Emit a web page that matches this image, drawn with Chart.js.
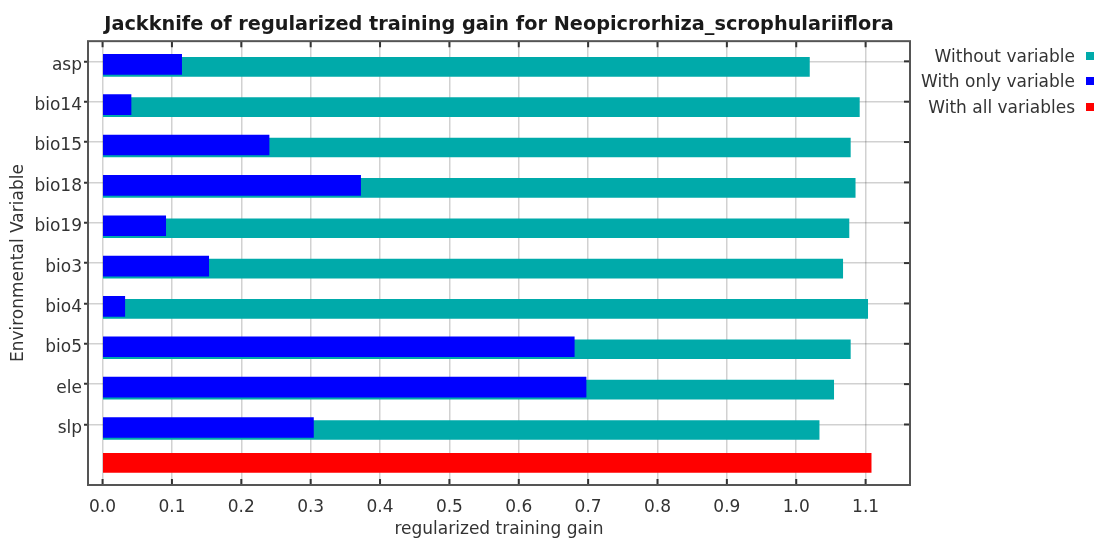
<!DOCTYPE html>
<html>
<head>
<meta charset="utf-8">
<script src="https://cdn.jsdelivr.net/npm/chart.js@4/dist/chart.umd.min.js"></script>
<style>
    body { margin: 0; background: #fff; }
    #wrap { position: relative; width: 1097px; height: 543px; }
    #legend { position: absolute; right: 3px; top: 43px; font: 17px 'DejaVu Sans', sans-serif; color: #333; }
    .item { display: flex; align-items: center; justify-content: flex-end; height: 25.5px; }
    .box { width: 8px; height: 8px; margin-left: 11px; }
</style>
</head>
<body>
<div id="wrap">
    <canvas id="chart-jackknife" width="1097" height="543"></canvas>
    <div id="legend"></div>
</div>
<script>
const LABELS = ['asp', 'bio14', 'bio15', 'bio18', 'bio19', 'bio3', 'bio4', 'bio5', 'ele', 'slp', '']
const WITHOUT_VAR = [1.019, 1.091, 1.078, 1.085, 1.076, 1.067, 1.103, 1.078, 1.054, 1.033, null]
const ONLY_VAR = [0.114, 0.041, 0.240, 0.372, 0.091, 0.153, 0.032, 0.680, 0.697, 0.304, null]
const ALL_VARS = [null, null, null, null, null, null, null, null, null, null, 1.108]

const COLORS = {
    teal: '#00aaaa',
    blue: '#0000ff',
    red: '#ff0000',
}

const FONT = "'DejaVu Sans', sans-serif"
const GRID = 'rgba(0, 0, 0, 0.18)'

// jfreechart draws the series a little off the category centre
const SHIFT = [5.5, 3, -2]

const barShift = {
    id: 'barShift',
    beforeDatasetDraw(chart, args) {
        chart.ctx.save()
        chart.ctx.translate(0, SHIFT[args.index] || 0)
    },
    afterDatasetDraw(chart) {
        chart.ctx.restore()
    },
}

// frame + inward tick marks on top, bottom and right
const frame = {
    id: 'frame',
    afterDraw(chart) {
        const { ctx, chartArea: a, scales } = chart
        ctx.save()
        ctx.strokeStyle = '#333'
        ctx.lineWidth = 2
        scales.x.ticks.forEach((t) => {
            const px = scales.x.getPixelForValue(t.value)
            ctx.beginPath()
            ctx.moveTo(px, a.bottom)
            ctx.lineTo(px, a.bottom - 6)
            ctx.moveTo(px, a.top)
            ctx.lineTo(px, a.top + 6)
            ctx.stroke()
        })
        scales.y.ticks.forEach((t, i) => {
            if (!LABELS[i]) return
            const py = scales.y.getPixelForTick(i)
            ctx.beginPath()
            ctx.moveTo(a.right, py)
            ctx.lineTo(a.right - 6, py)
            ctx.stroke()
        })
        ctx.strokeStyle = '#555'
        ctx.strokeRect(a.left, a.top, a.right - a.left, a.bottom - a.top)
        ctx.restore()
    },
}

const chartJackknife = new Chart(document.getElementById('chart-jackknife'), {
    type: 'bar',
    data: {
        labels: LABELS,
        datasets: [
            { label: 'Without variable', data: WITHOUT_VAR, backgroundColor: COLORS.teal, barThickness: 19, order: 3 },
            { label: 'With only variable', data: ONLY_VAR, backgroundColor: COLORS.blue, barThickness: 20, order: 2 },
            { label: 'With all variables', data: ALL_VARS, backgroundColor: COLORS.red, barThickness: 19, order: 1 },
        ],
    },
    options: {
        indexAxis: 'y',
        responsive: false,
        animation: false,
        grouped: false,
        layout: {
            padding: { left: 0, right: 187, top: 0, bottom: 0 },
        },
        plugins: {
            legend: { display: false },
            tooltip: { enabled: false },
            title: {
                display: true,
                text: 'Jackknife of regularized training gain for Neopicrorhiza_scrophulariiflora',
                fullSize: false,
                color: '#1a1a1a',
                font: { family: FONT, size: 19.3, weight: 'bold' },
                padding: { top: 13, bottom: 5 },
            },
        },
        scales: {
            x: {
                min: -0.021,
                max: 1.164,
                border: { display: false },
                grid: { color: GRID, lineWidth: 1.5, drawTicks: false },
                ticks: {
                    stepSize: 0.1,
                    includeBounds: false,
                    padding: 12,
                    color: '#333',
                    font: { family: FONT, size: 17 },
                    callback: (v) => Number(v).toFixed(1),
                },
                title: {
                    display: true,
                    text: 'regularized training gain',
                    color: '#333',
                    font: { family: FONT, size: 17 },
                    padding: { top: 0, bottom: 3 },
                },
                afterFit: (s) => { s.height = 58 },
            },
            y: {
                border: { display: false },
                grid: {
                    offset: false,
                    lineWidth: 1.5,
                    color: (c) => (LABELS[c.index] ? GRID : 'transparent'),
                    tickColor: (c) => (LABELS[c.index] ? '#333' : 'transparent'),
                    tickLength: 4,
                    tickWidth: 2,
                },
                ticks: {
                    padding: 2,
                    labelOffset: 4,
                    color: '#333',
                    font: { family: FONT, size: 17 },
                },
                title: {
                    display: true,
                    text: 'Environmental Variable',
                    color: '#333',
                    font: { family: FONT, size: 17 },
                    padding: { top: 8, bottom: 0 },
                },
                afterFit: (s) => { s.width = 88 },
            },
        },
    },
    plugins: [barShift, frame],
})

// legend: text on the left, square on the right
const legendEl = document.getElementById('legend')
chartJackknife.data.datasets.forEach((ds) => {
    const row = document.createElement('div')
    row.className = 'item'
    const txt = document.createElement('span')
    txt.textContent = ds.label
    const box = document.createElement('span')
    box.className = 'box'
    box.style.background = ds.backgroundColor
    row.appendChild(txt)
    row.appendChild(box)
    legendEl.appendChild(row)
})
</script>
</body>
</html>
